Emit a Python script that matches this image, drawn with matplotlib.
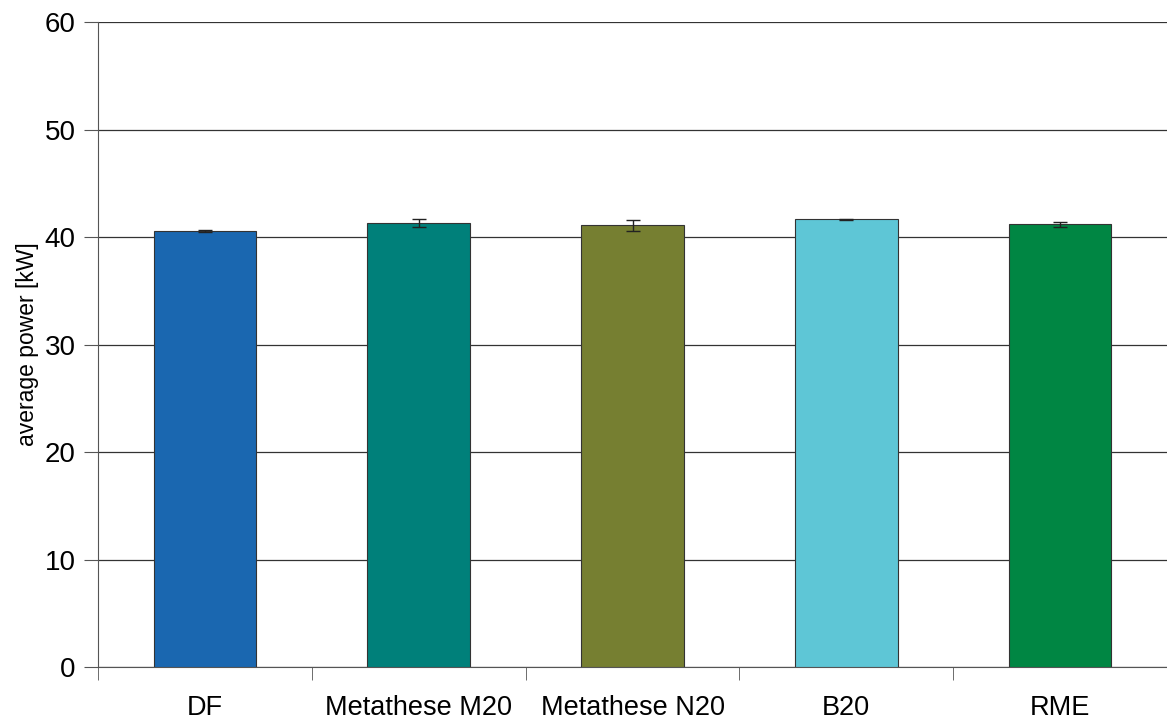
import matplotlib.pyplot as plt
import numpy as np

plt.rcParams['font.family'] = ['Liberation Sans', 'DejaVu Sans']

fuels = ["DF", "Metathese M20", "Metathese N20", "B20", "RME"]
power = [40.56, 41.33, 41.08, 41.66, 41.18]
err = [0.07, 0.36, 0.52, 0.05, 0.22]
colors = ["#1a67b0", "#00807a", "#767f31", "#5ec6d6", "#008643"]

fig = plt.figure(figsize=(11.67, 7.19), dpi=100)
ax = fig.add_axes([0.084, 0.0723, 0.916, 0.8971])

x = np.arange(len(fuels))
ax.bar(x, power, width=0.48, color=colors, edgecolor="#333333", linewidth=0.8, zorder=3)
ax.errorbar(x, power, yerr=err, fmt="none", ecolor="#222222", elinewidth=1, capsize=5, capthick=1, zorder=4)

ax.set_xlim(-0.5, len(fuels) - 0.5)
ax.set_ylim(0, 60)
ax.set_yticks(range(0, 61, 10))
ax.yaxis.grid(True, color="#333333", linewidth=0.9, zorder=0)

ax.set_xticks(x)
ax.set_xticklabels(fuels, fontsize=19.5)
ax.tick_params(axis="x", length=0, pad=20)
ax.set_xticks(np.arange(-0.5, len(fuels), 1), minor=True)
ax.tick_params(axis="x", which="minor", length=9, color="#555555", direction="out")
ax.tick_params(axis="y", labelsize=20, length=10, color="#555555", direction="out", pad=6)

for s in ["top", "right"]:
    ax.spines[s].set_visible(False)
ax.spines["left"].set_color("#555555")
ax.spines["bottom"].set_color("#555555")

ax.set_ylabel("average power [kW]", fontsize=16.5, labelpad=4)

fig.savefig("out.png", dpi=100)
